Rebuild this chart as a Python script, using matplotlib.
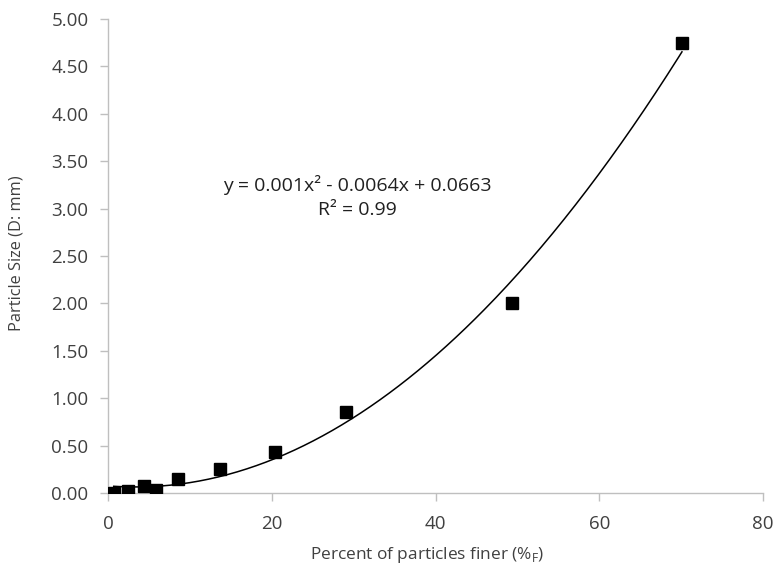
import numpy as np
import matplotlib
matplotlib.use("Agg")
import matplotlib.pyplot as plt

plt.rcParams['font.family'] = ['Open Sans', 'DejaVu Sans']

# Percent of particles finer vs. particle size
percent_finer = [0.7, 2.5, 4.4, 5.9, 8.6, 13.7, 20.4, 29.1, 49.4, 70.1]
particle_size = [0.00, 0.02, 0.07, 0.03, 0.15, 0.25, 0.43, 0.85, 2.00, 4.75]

x_ticks = [0, 20, 40, 60, 80]
y_ticks = [0.0, 0.5, 1.0, 1.5, 2.0, 2.5, 3.0, 3.5, 4.0, 4.5, 5.0]

eq_text = "y = 0.001x\u00b2 - 0.0064x + 0.0663"
r2_text = "R\u00b2 = 0.99"

fig = plt.figure(figsize=(7.77, 5.75), dpi=100)
ax = fig.add_axes([0.139, 0.1426, 0.843, 0.8244])

# second-order polynomial trend line over the data range
coef = np.polyfit(percent_finer, particle_size, 2)
xs = np.linspace(min(percent_finer), max(percent_finer), 300)
ax.plot(xs, np.polyval(coef, xs), color='black', lw=1.1, zorder=2)

ax.plot(percent_finer, particle_size, 's', color='black', ms=8.3, zorder=3)

ax.set_xlim(0, 80)
ax.set_ylim(0, 5)
ax.set_xticks(x_ticks)
ax.set_yticks(y_ticks)
ax.set_xticklabels([str(t) for t in x_ticks])
ax.set_yticklabels([f"{t:.2f}" for t in y_ticks])

gray = '#bfbfbf'
txt = '#404040'
for s in ['top', 'right']:
    ax.spines[s].set_visible(False)
for s in ['left', 'bottom']:
    ax.spines[s].set_color(gray)
    ax.spines[s].set_linewidth(1.0)
ax.tick_params(axis='both', colors=gray, length=6, width=1.0, labelcolor=txt,
               labelsize=13.5)
ax.tick_params(axis='x', pad=10)
ax.tick_params(axis='y', pad=8)

ax.set_xlabel("Percent of particles finer (%$_\\mathregular{F}$)", fontsize=12.4,
              color=txt)
ax.set_ylabel("Particle Size (D: mm)", fontsize=11.8, color=txt)
ax.xaxis.label.set_va('center')
ax.yaxis.label.set_va('center')
ax.xaxis.set_label_coords(0.487, -0.131)
ax.yaxis.set_label_coords(-0.139, 0.506)

ax.text(30.4, 3.25, eq_text, ha='center', va='center', fontsize=14, color='#202020')
ax.text(30.4, 2.985, r2_text, ha='center', va='center', fontsize=14, color='#202020')

fig.savefig("out.png", dpi=100)
